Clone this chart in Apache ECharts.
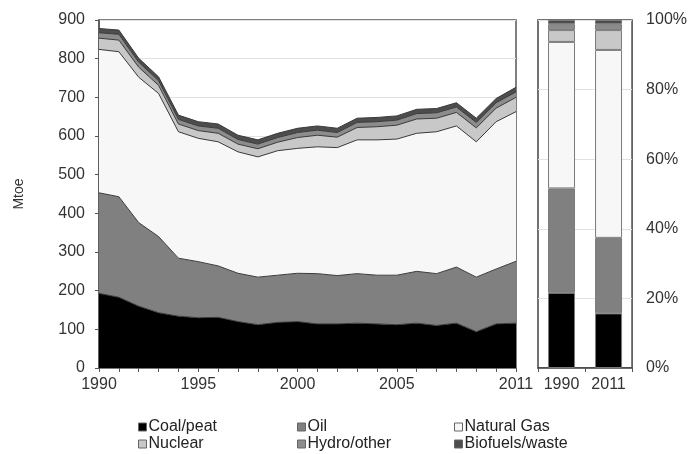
<!DOCTYPE html>
<html>
<head>
<meta charset="utf-8">
<script src="https://cdn.jsdelivr.net/npm/echarts@6/dist/echarts.min.js"></script>
<style>html,body{margin:0;padding:0;background:#fff}#c{width:690px;height:454px}</style>
</head>
<body>
<div id="c"></div>
<script>
var years = ['1990','1991','1992','1993','1994','1995','1996','1997','1998','1999','2000','2001','2002','2003','2004','2005','2006','2007','2008','2009','2010','2011'];
var coal    = [193,183,160,143,134,130,131,120,112,118,120,114,114,116,114,112,116,110,116,94,114,116];
var oil     = [260,260,216,197,150,145,133,125,123,122,125,130,125,128,126,128,134,134,145,141,142,160];
var gas     = [371,375,376,370,327,319,321,314,311,322,323,328,331,346,350,352,357,367,365,350,381,387];
var nuclear = [29,30,26,21,20,20,22,20,21,22,28,30,27,32,34,36,37,35,35,36,35,37];
var hydro   = [14,15,13,12,12,12,13,12,12,12,13,13,12,13,13,13,14,14,14,14,14,14];
var bio     = [11,11,10,10,11,11,11,11,11,11,11,11,11,11,11,11,11,11,11,11,11,12];

var shareCats = ['1990','2011'];
var shareCoal    = [0.216,0.157];
var shareOil     = [0.300,0.217];
var shareGas     = [0.421,0.540];
var shareNuclear = [0.034,0.057];
var shareHydro   = [0.017,0.017];
var shareBio     = [0.012,0.012];

var xLabelYears = ['1990','1995','2000','2005','2011'];

var names = ['Coal/peat','Oil','Natural Gas','Nuclear','Hydro/other','Biofuels/waste'];
var colors = ['#000000','#808080','#f7f7f7','#c8c8c8','#8c8c8c','#4d4d4d'];
var areaData = [coal,oil,gas,nuclear,hydro,bio];
var barData = [shareCoal,shareOil,shareGas,shareNuclear,shareHydro,shareBio];

var font = 'Liberation Sans, Arial, sans-serif';
var fs = 16;
var series = [];
names.forEach(function(n,i){
  series.push({
    name:n, type:'line', stack:'tot', xAxisIndex:0, yAxisIndex:0,
    data:areaData[i], showSymbol:false, symbol:'none',
    itemStyle:{color:colors[i]},
    lineStyle:{color:'#3a3a3a', width:1},
    areaStyle:{color:colors[i], opacity:1},
    animation:false
  });
});
names.forEach(function(n,i){
  series.push({
    name:n, type:'bar', stack:'share', xAxisIndex:1, yAxisIndex:1,
    data:barData[i], barWidth:27,
    itemStyle:{color:colors[i], borderColor:'#7a7a7a', borderWidth:1},
    animation:false
  });
});

var legPos = [[138,419],[297,419],[454,419],[138,436],[297,436],[454,436]];
var legends = names.map(function(n,i){
  return {
    left:legPos[i][0], top:legPos[i][1], padding:0,
    itemWidth:8, itemHeight:8, icon:'rect', itemGap:0,
    selectedMode:false,
    textStyle:{fontFamily:font, fontSize:fs, color:'#222', padding:[0,0,0,-3]},
    data:[{name:n, itemStyle:{color:colors[i], borderColor:'#666', borderWidth:1}}]
  };
});

var chart = echarts.init(document.getElementById('c'), null, {renderer:'canvas'});
chart.setOption({
  backgroundColor:'#fff',
  animation:false,
  legend:legends,
  grid:[
    {left:99, top:20, width:417, height:348, show:true, borderColor:'#555', borderWidth:1.5, backgroundColor:'transparent'},
    {left:538, top:20, width:98, height:348, show:true, borderColor:'#444', borderWidth:1.5, backgroundColor:'transparent'}
  ],
  xAxis:[
    {type:'category', gridIndex:0, data:years, boundaryGap:false,
     axisLine:{lineStyle:{color:'#555', width:1.5}},
     axisTick:{show:true, interval:0, length:4, lineStyle:{color:'#555'}},
     axisLabel:{fontFamily:font, fontSize:fs, color:'#333', margin:9,
       interval:function(idx,val){return xLabelYears.indexOf(val)>=0;}},
     splitLine:{show:false}},
    {type:'category', gridIndex:1, data:shareCats, boundaryGap:true,
     axisLine:{lineStyle:{color:'#444', width:1.5}},
     axisTick:{show:true, length:4, lineStyle:{color:'#555'}},
     axisLabel:{fontFamily:font, fontSize:fs, color:'#333', margin:9}}
  ],
  yAxis:[
    {type:'value', gridIndex:0, min:0, max:900, interval:100,
     name:'Mtoe', nameLocation:'middle', nameGap:73, nameRotate:90,
     nameTextStyle:{fontFamily:font, fontSize:14, color:'#333'},
     axisLine:{show:true, lineStyle:{color:'#555', width:1.5}},
     axisTick:{show:true, length:4, lineStyle:{color:'#555'}},
     axisLabel:{fontFamily:font, fontSize:fs, color:'#333', margin:14},
     splitLine:{show:true, lineStyle:{color:'#e2e2e2', width:1}}},
    {type:'value', gridIndex:1, min:0, max:1, interval:0.2, position:'right',
     axisLine:{show:false},
     axisTick:{show:false},
     axisLabel:{fontFamily:font, fontSize:fs, color:'#333', margin:14,
       formatter:function(v){return Math.round(v*100)+'%';}},
     splitLine:{show:true, lineStyle:{color:'#e2e2e2', width:1}}}
  ],
  series:series
});
</script>
</body>
</html>
